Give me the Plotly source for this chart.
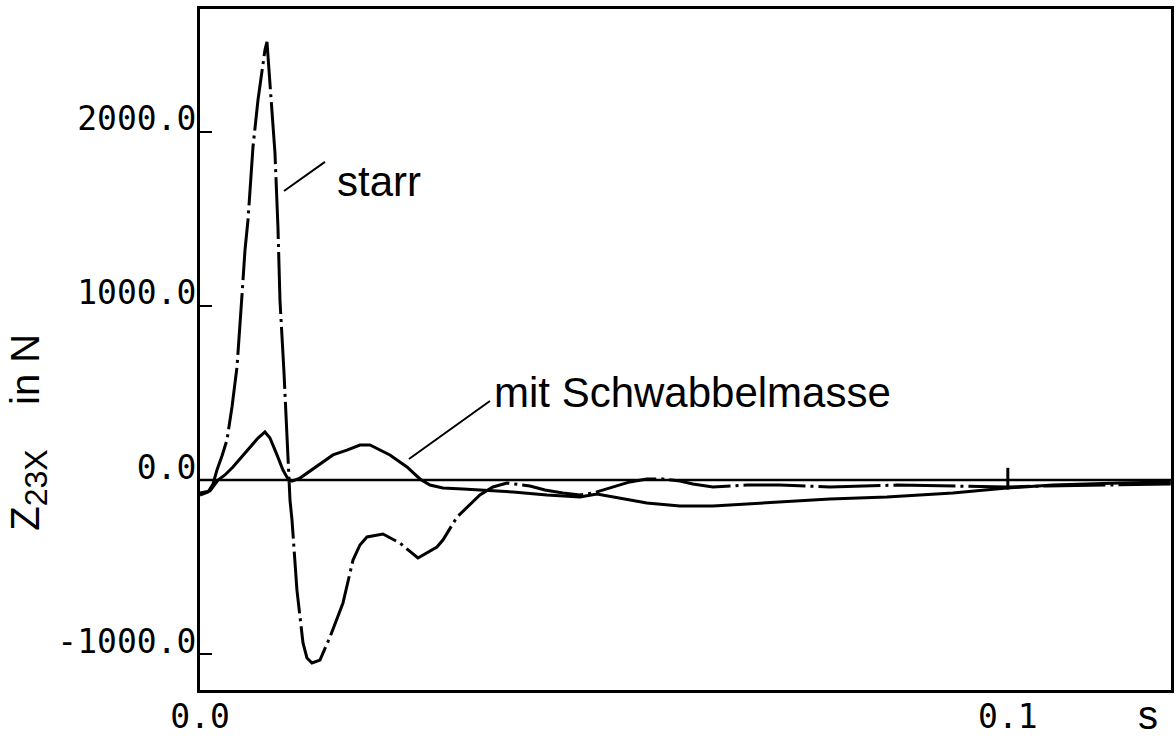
import plotly.graph_objects as go

# Time axis in seconds, force in N
t_starr = [0.0, 0.00099, 0.00161, 0.00210, 0.00272, 0.00334, 0.00396, 0.00458, 0.00520,
           0.00557, 0.00594, 0.00656, 0.00718, 0.00767, 0.00804, 0.00829, 0.00866, 0.00928,
           0.00965, 0.00990, 0.01040, 0.01077, 0.01095, 0.01114, 0.01139, 0.01200, 0.01275,
           0.01324, 0.01386, 0.01485, 0.01609, 0.01770, 0.01894, 0.01980, 0.02067, 0.02265,
           0.02475, 0.02698, 0.02933, 0.03007, 0.03181, 0.03465, 0.03626, 0.03800, 0.04084,
           0.04270, 0.04493, 0.04703, 0.04864, 0.05111, 0.05322, 0.05532, 0.05730, 0.05941,
           0.06101, 0.06349, 0.06770, 0.07178, 0.07797, 0.08626, 0.09530, 0.09988, 0.10483,
           0.11139, 0.12017]
z_starr = [-86, -69, -23, 57, 138, 230, 419, 649, 1063,
           1321, 1493, 1913, 2183, 2343, 2470, 2516, 2298, 1878,
           1453, 1034, 615, 213, 0, -115, -230, -632, -936,
           -1022, -1051, -1034, -902, -706, -460, -373, -327, -310,
           -362, -448, -385, -345, -213, -86, -40, -17, -34,
           -57, -75, -86, -75, -40, -11, 6, 6, -6,
           -23, -40, -29, -29, -40, -29, -34, -40, -34,
           -29, -23]

t_schw = [0.0, 0.00124, 0.00223, 0.00309, 0.00408, 0.00619, 0.00718, 0.00804, 0.00866,
          0.00953, 0.01027, 0.01089, 0.01139, 0.01238, 0.01448, 0.01646, 0.01819, 0.01980,
          0.02104, 0.02351, 0.02562, 0.02723, 0.02847, 0.03007, 0.03255, 0.03465, 0.03874,
          0.04295, 0.04703, 0.04913, 0.05111, 0.05322, 0.05532, 0.05941, 0.06349, 0.06770,
          0.07178, 0.07797, 0.08502, 0.09319, 0.09988, 0.10557, 0.11386, 0.12017]
z_schw = [-75, -63, 0, 29, 75, 190, 241, 276, 241,
          144, 57, 6, -6, 11, 80, 144, 172, 201,
          201, 144, 75, 6, -29, -46, -52, -57, -69,
          -86, -98, -80, -98, -115, -132, -149, -149, -138,
          -126, -109, -98, -75, -46, -29, -17, -11]

y_ticks = [2000, 1000, 0, -1000]
y_ticktext = ["2000.0", "1000.0", "0.0", "-1000.0"]
x_ticks = [0.0, 0.1]
x_ticktext = ["0.0", "0.1"]

X_RANGE = [0.0, 0.1202]
Y_RANGE = [-1206, 2705]

fig = go.Figure()

fig.add_trace(go.Scatter(
    x=t_starr, y=z_starr, mode="lines", name="starr",
    line=dict(color="black", width=3, dash="62px,5px,3px,5px"),
))
fig.add_trace(go.Scatter(
    x=t_schw, y=z_schw, mode="lines", name="mit Schwabbelmasse",
    line=dict(color="black", width=3),
))

# zero line and the 0.1 s mark on it
fig.add_shape(type="line", xref="x", yref="y", x0=X_RANGE[0], x1=X_RANGE[1], y0=0, y1=0,
              line=dict(color="black", width=2.5))
fig.add_shape(type="line", xref="x", yref="y", x0=x_ticks[1], x1=x_ticks[1], y0=70, y1=-55,
              line=dict(color="black", width=3))

# leader lines for the curve labels
fig.add_shape(type="line", xref="x", yref="y", x0=0.0104, y0=1660, x1=0.01547, y1=1827,
              line=dict(color="black", width=2))
fig.add_shape(type="line", xref="x", yref="y", x0=0.02587, y0=121, x1=0.03589, y1=454,
              line=dict(color="black", width=2))

label_font = dict(family="Liberation Sans, Arial, sans-serif", size=42, color="black")
fig.add_annotation(x=0.0167, y=1712, xref="x", yref="y", text="starr", showarrow=False,
                   xanchor="left", yanchor="middle", font=label_font)
fig.add_annotation(x=0.03614, y=500, xref="x", yref="y", text="mit Schwabbelmasse",
                   showarrow=False, xanchor="left", yanchor="middle", font=label_font)

# y-axis title
fig.add_annotation(x=-0.177, y=0.378, xref="paper", yref="paper",
                   text="Z<sub><span style=\"font-size:32px\">23X</span></sub>"
                        "\u00a0\u00a0\u00a0\u00a0in N",
                   textangle=-90,
                   showarrow=False, xanchor="center", yanchor="middle",
                   font=dict(family="Liberation Sans, Arial, sans-serif", size=40, color="black"))
# x-axis unit
fig.add_annotation(x=0.976, y=-0.037, xref="paper", yref="paper", text="s", showarrow=False,
                   xanchor="center", yanchor="middle",
                   font=dict(family="Liberation Sans, Arial, sans-serif", size=40, color="black"))

tick_font = dict(family="DejaVu Sans Mono, monospace", size=33, color="black")

fig.update_layout(
    width=1176, height=738,
    margin=dict(l=200, r=5, t=9, b=48),
    paper_bgcolor="white", plot_bgcolor="white",
    showlegend=False,
    xaxis=dict(range=X_RANGE, showgrid=False, zeroline=False, automargin=False,
               showline=True, linecolor="black", linewidth=3, mirror=True,
               tickmode="array", tickvals=x_ticks, ticktext=x_ticktext,
               ticks="", ticklabelstandoff=-5, tickfont=tick_font),
    yaxis=dict(range=Y_RANGE, showgrid=False, zeroline=False, automargin=False,
               showline=True, linecolor="black", linewidth=3, mirror=True,
               tickmode="array", tickvals=y_ticks, ticktext=y_ticktext,
               ticks="inside", ticklen=12, tickwidth=2, tickcolor="black",
               ticklabelshift=-13, ticklabelstandoff=-6, tickfont=tick_font),
)

fig.write_html("out.html")
